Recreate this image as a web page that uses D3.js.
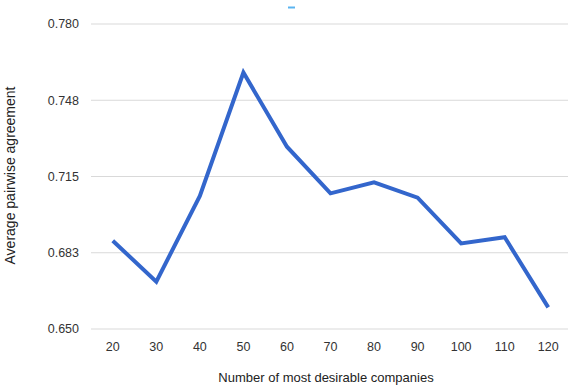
<!DOCTYPE html>
<html><head><meta charset="utf-8">
<script src="https://cdn.jsdelivr.net/npm/d3@7"></script>
<style>body{margin:0;background:#fff}svg{display:block;font-family:"Liberation Sans",Arial,sans-serif}</style>
</head><body><svg id="c" width="568" height="387"></svg>
<script>
const categories = ["20","30","40","50","60","70","80","90","100","110","120"];
const values = [0.6876,0.6702,0.7067,0.7593,0.7277,0.7078,0.7125,0.7060,0.6865,0.6891,0.6592];
const yTicks = [0.650,0.6825,0.715,0.7475,0.780];
const yTickLabels = ["0.650","0.683","0.715","0.748","0.780"];
const xTitle = "Number of most desirable companies";
const yTitle = "Average pairwise agreement";

const svg = d3.select("#c");
const x = d3.scalePoint().domain(categories).range([91,570]).padding(0.5);
const y = d3.scaleLinear().domain([0.65,0.78]).range([329,24]);

svg.append("g").selectAll("line").data(yTicks).join("line")
  .attr("x1",91).attr("x2",568).attr("y1",d=>y(d)).attr("y2",d=>y(d))
  .attr("stroke","#d9d9d9").attr("stroke-width",1);

svg.append("g").selectAll("text").data(yTicks).join("text")
  .attr("x",79).attr("y",d=>y(d)).attr("dy","0.35em").attr("text-anchor","end")
  .attr("font-size",12.5).attr("fill","#333").text((d,i)=>yTickLabels[i]);

svg.append("g").selectAll("text").data(categories).join("text")
  .attr("x",d=>x(d)).attr("y",351).attr("text-anchor","middle")
  .attr("font-size",12.5).attr("fill","#333").text(d=>d);

svg.append("path").datum(values)
  .attr("fill","none").attr("stroke","#3366cc").attr("stroke-width",4)
  .attr("stroke-linejoin","miter")
  .attr("d",d3.line().x((d,i)=>x(categories[i])).y(d=>y(d)));

svg.append("text").attr("x",326).attr("y",382).attr("text-anchor","middle")
  .attr("font-size",13).attr("fill","#222").text(xTitle);
svg.append("text").attr("transform","translate(15,175.5) rotate(-90)").attr("text-anchor","middle")
  .attr("font-size",14).attr("fill","#222").text(yTitle);

svg.append("line").attr("x1",288).attr("x2",295).attr("y1",7.5).attr("y2",7.5)
  .attr("stroke","#5ab4f0").attr("stroke-width",2);
</script></body></html>
